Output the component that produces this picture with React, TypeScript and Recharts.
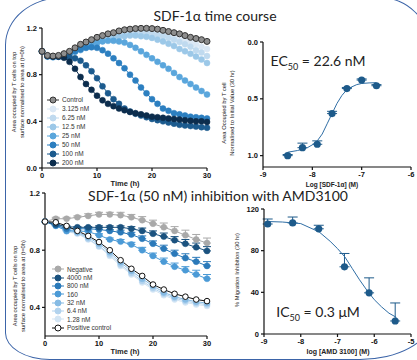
import React from 'react';
import { LineChart, Line, XAxis, YAxis, ErrorBar, ScatterChart, Scatter } from 'recharts';

// SDF-1a time course (hours 0..30)
const tcHours = [0, 1, 2, 3, 4, 5, 6, 7, 8, 9, 10, 11, 12, 13, 14, 15, 16, 17, 18, 19, 20, 21, 22, 23, 24, 25, 26, 27, 28, 29, 30];
const tcControl = [1.0, 0.965, 0.96, 0.965, 0.98, 1.0, 1.03, 1.06, 1.08, 1.1, 1.12, 1.135, 1.15, 1.16, 1.175, 1.185, 1.19, 1.195, 1.197, 1.197, 1.195, 1.19, 1.18, 1.17, 1.16, 1.15, 1.135, 1.12, 1.11, 1.1, 1.085];
const tc3125 = [1.0, 0.96, 0.955, 0.96, 0.97, 0.99, 1.01, 1.03, 1.05, 1.07, 1.09, 1.11, 1.12, 1.135, 1.145, 1.155, 1.16, 1.165, 1.17, 1.17, 1.165, 1.16, 1.15, 1.14, 1.13, 1.115, 1.1, 1.08, 1.06, 1.04, 1.02];
const tc625 = [1.0, 0.96, 0.955, 0.96, 0.97, 0.985, 1.0, 1.02, 1.04, 1.06, 1.08, 1.1, 1.115, 1.13, 1.14, 1.15, 1.155, 1.16, 1.16, 1.155, 1.15, 1.14, 1.13, 1.115, 1.1, 1.08, 1.06, 1.04, 1.01, 0.99, 0.96];
const tc125 = [1.0, 0.955, 0.95, 0.955, 0.965, 0.98, 0.995, 1.01, 1.03, 1.05, 1.07, 1.09, 1.1, 1.115, 1.125, 1.13, 1.135, 1.135, 1.13, 1.125, 1.115, 1.1, 1.085, 1.065, 1.045, 1.02, 1.0, 0.98, 0.955, 0.93, 0.9];
const tc25 = [1.0, 0.955, 0.95, 0.955, 0.965, 0.98, 1.0, 1.02, 1.04, 1.06, 1.075, 1.085, 1.09, 1.09, 1.085, 1.075, 1.055, 1.03, 1.0, 0.97, 0.94, 0.91, 0.88, 0.85, 0.815, 0.78, 0.75, 0.72, 0.69, 0.66, 0.63];
const tc50 = [1.0, 0.96, 0.955, 0.955, 0.965, 0.98, 1.0, 1.015, 1.03, 1.035, 1.03, 1.01, 0.98, 0.94, 0.9, 0.855, 0.8, 0.75, 0.69, 0.64, 0.59, 0.55, 0.51, 0.49, 0.47, 0.46, 0.45, 0.44, 0.435, 0.43, 0.425];
const tc100 = [1.0, 0.96, 0.955, 0.955, 0.955, 0.95, 0.94, 0.92, 0.88, 0.83, 0.77, 0.7, 0.64, 0.59, 0.55, 0.51, 0.485, 0.465, 0.45, 0.435, 0.42, 0.41, 0.4, 0.39, 0.38, 0.37, 0.365, 0.36, 0.355, 0.35, 0.345];
const tc200 = [1.0, 0.96, 0.955, 0.955, 0.945, 0.91, 0.85, 0.78, 0.72, 0.67, 0.62, 0.58, 0.55, 0.53, 0.51, 0.495, 0.48, 0.47, 0.46, 0.45, 0.44, 0.435, 0.43, 0.425, 0.42, 0.415, 0.41, 0.405, 0.4, 0.4, 0.395];

// AMD3100 inhibition time course (every 2 h)
const inHours = [0, 2, 4, 6, 8, 10, 12, 14, 16, 18, 20, 22, 24, 26, 28, 30];
const inNegative = [1.0, 1.02, 1.02, 1.03, 1.04, 1.05, 1.05, 1.045, 1.03, 1.01, 0.985, 0.96, 0.935, 0.905, 0.875, 0.85];
const inNegativeErr = [0, 0.01, 0.01, 0.01, 0.015, 0.015, 0.015, 0.02, 0.02, 0.025, 0.025, 0.03, 0.03, 0.035, 0.035, 0.035];
const in4000 = [1.0, 0.98, 0.965, 0.96, 0.96, 0.96, 0.96, 0.96, 0.95, 0.935, 0.915, 0.895, 0.87, 0.845, 0.82, 0.795];
const in4000Err = [0, 0.005, 0.005, 0.005, 0.005, 0.01, 0.01, 0.01, 0.015, 0.02, 0.02, 0.025, 0.025, 0.03, 0.03, 0.03];
const in800 = [1.0, 0.975, 0.95, 0.95, 0.95, 0.945, 0.935, 0.925, 0.91, 0.88, 0.845, 0.81, 0.775, 0.745, 0.72, 0.69];
const in800Err = [0, 0.005, 0.005, 0.005, 0.005, 0.01, 0.01, 0.015, 0.015, 0.02, 0.02, 0.025, 0.025, 0.03, 0.03, 0.03];
const in160 = [1.0, 0.97, 0.935, 0.935, 0.93, 0.905, 0.875, 0.86, 0.84, 0.8, 0.76, 0.72, 0.685, 0.66, 0.63, 0.6];
const in160Err = [0, 0.005, 0.005, 0.005, 0.01, 0.01, 0.01, 0.015, 0.015, 0.02, 0.02, 0.025, 0.025, 0.025, 0.03, 0.03];
const in32 = [1.0, 0.985, 0.945, 0.925, 0.89, 0.845, 0.785, 0.715, 0.655, 0.6, 0.55, 0.505, 0.475, 0.455, 0.44, 0.43];
const in64 = [1.0, 0.98, 0.935, 0.92, 0.88, 0.83, 0.77, 0.7, 0.64, 0.585, 0.535, 0.495, 0.465, 0.445, 0.43, 0.42];
const in128 = [1.0, 0.975, 0.93, 0.915, 0.875, 0.825, 0.76, 0.69, 0.63, 0.575, 0.525, 0.485, 0.455, 0.435, 0.42, 0.41];
const inPositive = [1.0, 0.995, 0.97, 0.935, 0.9, 0.857, 0.8, 0.73, 0.67, 0.62, 0.56, 0.525, 0.495, 0.475, 0.455, 0.444];

// dose response, SDF-1a (EC50)
const ecLogDose = [-8.5, -8.2, -7.9, -7.6, -7.3, -7.0, -6.7];
const ecArea = [1.0, 0.93, 0.9, 0.63, 0.41, 0.335, 0.385];
const ecErrUp = [0.01, 0.04, 0.03, 0.02, 0.01, 0.01, 0.01];
const ecFitX = [-8.5, -8.3, -8.1, -8.0, -7.9, -7.8, -7.7, -7.6, -7.5, -7.4, -7.3, -7.2, -7.1, -7.0, -6.85, -6.7];
const ecFitY = [0.97, 0.955, 0.93, 0.905, 0.87, 0.81, 0.72, 0.63, 0.54, 0.47, 0.42, 0.395, 0.375, 0.365, 0.36, 0.358];

// dose response, AMD3100 (IC50)
const icLogDose = [-8.9, -8.22, -7.51, -6.81, -6.14, -5.43];
const icInhibition = [105.6, 106.6, 101, 64.5, 39.5, 12.5];
const icErrUp = [4.8, 5.7, 3.4, 12.8, 14.4, 17.3];
const icFitX = [-8.9, -8.5, -8.0, -7.5, -7.2, -7.0, -6.8, -6.6, -6.4, -6.2, -6.0, -5.8, -5.6, -5.4];
const icFitY = [108, 107.5, 106, 98, 89, 82, 74, 63, 52, 42, 33, 26, 20, 16];

const tcTicksY = [0, 0.4, 0.8, 1.2];
const ecTicksY = [0, 0.5, 1.0];
const inTicksY = [0.4, 0.8, 1.2];
const icTicksY = [0, 40, 80, 120];
const hourTicks = [0, 10, 20, 30];

const tcSeries = [
  { key: 'c3125', name: '3.125 nM', color: '#dbe8f5', values: tc3125 },
  { key: 'c625', name: '6.25 nM', color: '#c0daef', values: tc625 },
  { key: 'c125', name: '12.5 nM', color: '#9cc8e8', values: tc125 },
  { key: 'c25', name: '25 nM', color: '#5aa6dc', values: tc25 },
  { key: 'c50', name: '50 nM', color: '#2c7fc0', values: tc50 },
  { key: 'c100', name: '100 nM', color: '#1c5b8e', values: tc100 },
  { key: 'c200', name: '200 nM', color: '#0c2d4d', values: tc200 },
];

const inSeries = [
  { key: 'p128', name: '1.28 nM', color: '#d3e5f4', values: in128 },
  { key: 'p64', name: '6.4 nM', color: '#b2d3ee', values: in64 },
  { key: 'p32', name: '32 nM', color: '#86bbe4', values: in32 },
  { key: 'p160', name: '160', color: '#4b9ad6', values: in160, err: in160Err },
  { key: 'p800', name: '800 nM', color: '#2a79b9', values: in800, err: in800Err },
  { key: 'p4000', name: '4000 nM', color: '#1b527f', values: in4000, err: in4000Err },
  { key: 'neg', name: 'Negative', color: '#a9a9a9', values: inNegative, err: inNegativeErr },
];

const tcRows = tcHours.map((t, i) => {
  const row: any = { t, control: tcControl[i] };
  tcSeries.forEach((s) => { row[s.key] = s.values[i]; });
  return row;
});

const inRows = inHours.map((t, i) => {
  const row: any = { t, pos: inPositive[i] };
  inSeries.forEach((s) => {
    row[s.key] = s.values[i];
    if (s.err) row[s.key + 'Err'] = [0, s.err[i]];
  });
  return row;
});

const ecPoints = ecLogDose.map((x, i) => ({ x, y: ecArea[i], err: [ecErrUp[i], 0] }));
const ecFit = ecFitX.map((x, i) => ({ x, y: ecFitY[i] }));
const icPoints = icLogDose.map((x, i) => ({ x, y: icInhibition[i], err: [0, icErrUp[i]] }));
const icFit = icFitX.map((x, i) => ({ x, y: icFitY[i] }));

const arial = '"Liberation Sans", Arial, sans-serif';
const tick = { fontSize: 7.5, fontWeight: 700, fill: '#111', fontFamily: arial };
const axisLine = { stroke: '#111', strokeWidth: 1.2 };
const doseBlue = '#1d5a8a';

const DoseDot = (p: any) => <circle cx={p.cx} cy={p.cy} r={3.6} fill={doseBlue} />;
const NoDot = () => <g />;

function Key({ items, left, top, gap }: any) {
  return (
    <div style={{ position: 'absolute', left, top, fontFamily: arial }}>
      {items.map((it: any) => (
        <div key={it.name} style={{ display: 'flex', alignItems: 'center', height: gap }}>
          <svg width={12} height={8}>
            <line x1={0} y1={4} x2={12} y2={4} stroke={it.line} strokeWidth={1} />
            <circle cx={6} cy={4} r={3} fill={it.fill} stroke={it.stroke} strokeWidth={1} />
          </svg>
          <span style={{ marginLeft: 3, fontSize: 6.5, color: '#333', whiteSpace: 'nowrap' }}>{it.name}</span>
        </div>
      ))}
    </div>
  );
}

function Text({ x, y, size, bold, rotate, children, font }: any) {
  return (
    <div
      style={{
        position: 'absolute', left: x, top: y, whiteSpace: 'nowrap', textAlign: 'center',
        transform: `translate(-50%, -50%)${rotate ? ' rotate(-90deg)' : ''}`,
        fontSize: size, fontWeight: bold ? 700 : 400, color: '#222',
        fontFamily: font || arial, lineHeight: 1.4,
      }}
    >
      {children}
    </div>
  );
}

export default function App() {
  const tcKey = [
    { name: 'Control', fill: '#8e8e8e', stroke: '#333', line: '#333' },
    ...tcSeries.map((s) => ({ name: s.name, fill: s.color, stroke: s.color, line: s.color })),
  ];
  const inKey = [
    ...inSeries.slice().reverse().map((s) => ({ name: s.name, fill: s.color, stroke: s.color, line: s.color })),
    { name: 'Positive control', fill: '#fff', stroke: '#111', line: '#111' },
  ];
  const title = '"Lato", "Open Sans", sans-serif';
  const axisProps = { tick, axisLine, tickLine: axisLine, tickSize: 3, interval: 0 };
  const oneDec = (v: number) => v.toFixed(1);

  return (
    <div style={{ position: 'absolute', left: 0, top: 0, width: 417, height: 360, overflow: 'hidden', background: '#fff' }}>
      <div style={{
        position: 'absolute', left: 5, top: -3, width: 425, height: 363, boxSizing: 'border-box',
        border: '1.5px solid #3b64a8',
        borderTopLeftRadius: '58px 48px', borderTopRightRadius: '50px 50px',
        borderBottomRightRadius: '70px 39px', borderBottomLeftRadius: '45px 27px',
      }} />

      <div style={{ position: 'absolute', left: 0, top: 0 }}>
        <LineChart width={215} height={200} data={tcRows} margin={{ top: 28, right: 8, left: 12, bottom: 7 }}>
          <XAxis dataKey="t" type="number" domain={[0, 30]} ticks={hourTicks} {...axisProps} height={25} />
          <YAxis type="number" domain={[0, 1.2]} ticks={tcTicksY} tickFormatter={oneDec} {...axisProps} width={30} />
          {tcSeries.map((s) => (
            <Line key={s.key} dataKey={s.key} stroke={s.color} strokeWidth={1} dot={{ r: 3, fill: s.color, stroke: s.color, strokeWidth: 0.5 }} isAnimationActive={false} />
          ))}
          <Line dataKey="control" stroke="#333" strokeWidth={1} dot={{ r: 3, fill: '#8e8e8e', stroke: '#333', strokeWidth: 1 }} isAnimationActive={false} />
        </LineChart>
      </div>

      <div style={{ position: 'absolute', left: 205, top: 0 }}>
        <ScatterChart width={212} height={190} margin={{ top: 42, right: 6, left: 28, bottom: 3 }}>
          <XAxis dataKey="x" type="number" domain={[-9, -6]} ticks={[-9, -8, -7, -6]} {...axisProps} height={20} />
          <YAxis dataKey="y" type="number" domain={[0, 1.1]} reversed ticks={ecTicksY} tickFormatter={oneDec} {...axisProps} width={30} />
          <Scatter data={ecFit} line={{ stroke: '#2f6ea5', strokeWidth: 1 }} lineType="joint" shape={NoDot} isAnimationActive={false} />
          <Scatter data={ecPoints} shape={DoseDot} isAnimationActive={false}>
            <ErrorBar dataKey="err" direction="y" width={5} stroke={doseBlue} strokeWidth={1} />
          </Scatter>
        </ScatterChart>
      </div>

      <div style={{ position: 'absolute', left: 0, top: 180 }}>
        <LineChart width={215} height={180} data={inRows} margin={{ top: 13, right: 8, left: 15, bottom: 4 }}>
          <XAxis dataKey="t" type="number" domain={[0, 30]} ticks={hourTicks} {...axisProps} height={20} />
          <YAxis type="number" domain={[0.2, 1.2]} ticks={inTicksY} tickFormatter={oneDec} {...axisProps} width={30} />
          {inSeries.map((s) => (
            <Line key={s.key} dataKey={s.key} stroke={s.color} strokeWidth={1} dot={{ r: 3, fill: s.color, stroke: s.color, strokeWidth: 0.5 }} isAnimationActive={false}>
              {s.err ? <ErrorBar dataKey={s.key + 'Err'} direction="y" width={4} stroke={s.color} strokeWidth={1} /> : null}
            </Line>
          ))}
          <Line dataKey="pos" stroke="#111" strokeWidth={1} dot={{ r: 2.8, fill: '#fff', stroke: '#111', strokeWidth: 1 }} isAnimationActive={false} />
        </LineChart>
      </div>

      <div style={{ position: 'absolute', left: 205, top: 180 }}>
        <ScatterChart width={212} height={175} margin={{ top: 29, right: 6, left: 29, bottom: 1 }}>
          <XAxis dataKey="x" type="number" domain={[-9, -5]} ticks={[-9, -8, -7, -6, -5]} {...axisProps} height={20} />
          <YAxis dataKey="y" type="number" domain={[0, 120]} ticks={icTicksY} {...axisProps} width={30} />
          <Scatter data={icFit} line={{ stroke: '#2f6ea5', strokeWidth: 1 }} lineType="joint" shape={NoDot} isAnimationActive={false} />
          <Scatter data={icPoints} shape={DoseDot} isAnimationActive={false}>
            <ErrorBar dataKey="err" direction="y" width={5} stroke={doseBlue} strokeWidth={1} />
          </Scatter>
        </ScatterChart>
      </div>

      <Key items={tcKey} left={47} top={95} gap={9} />
      <Key items={inKey} left={52} top={265} gap={8.35} />

      <Text x={215} y={16} size={14} font={title}>SDF-1α time course</Text>
      <Text x={218} y={196} size={14} font={title}>SDF-1α (50 nM) inhibition with AMD3100</Text>
      <Text x={318} y={62} size={14} font={title}>EC<sub style={{ fontSize: 9 }}>50</sub> = 22.6 nM</Text>
      <Text x={318} y={313} size={14} font={title}>IC<sub style={{ fontSize: 9 }}>50</sub> = 0.3 μM</Text>

      <Text x={17.5} y={92} size={5.8} rotate>Area occupied by T cells on top<br />surface normalised to area at (t=0h)</Text>
      <Text x={18.5} y={286} size={5.8} rotate>Area occupied by T cells on top<br />surface normalised to area at (t=0h)</Text>
      <Text x={227.5} y={113} size={5.8} rotate>Area Occupied by T cell<br />Normalised to Initial Value (30 hr)</Text>
      <Text x={237} y={270} size={5.8} rotate>% Migration Inhibition (30 hr)</Text>

      <Text x={125} y={184} size={7.5} bold>Time (h)</Text>
      <Text x={125} y={352} size={7.5} bold>Time (h)</Text>
      <Text x={332} y={185} size={6.5} bold>Log [SDF-1α] (M)</Text>
      <Text x={338} y={352} size={7} bold>log [AMD 3100] (M)</Text>
    </div>
  );
}
